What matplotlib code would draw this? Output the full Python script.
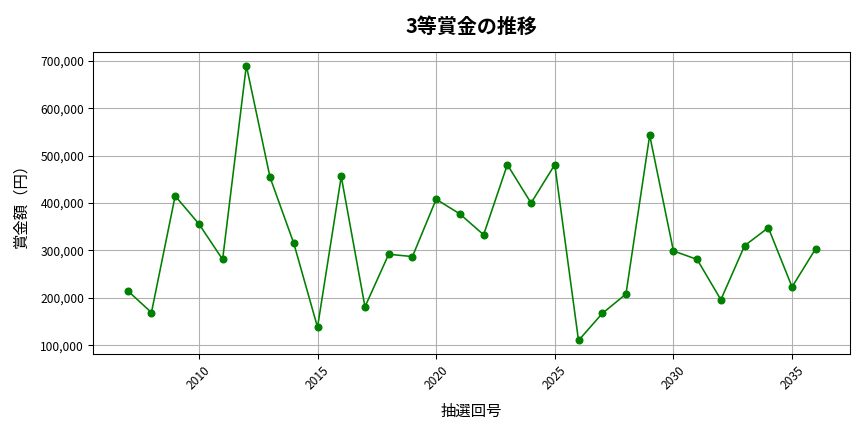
import matplotlib
matplotlib.use("Agg")
import matplotlib.pyplot as plt
from matplotlib.ticker import FuncFormatter

plt.rcParams['font.family'] = ['Noto Sans CJK JP', 'DejaVu Sans']

draws = list(range(2007, 2037))
prizes = [215000, 169000, 415000, 356000, 281000, 690000, 454000, 315000, 138000, 456000,
          181000, 292000, 287000, 408000, 377000, 333000, 481000, 400000, 481000, 110000,
          167000, 208000, 543000, 299000, 281000, 196000, 310000, 348000, 223000, 304000]

fig, ax = plt.subplots(figsize=(9, 4.5), dpi=96)
ax.plot(draws, prizes, color='green', marker='o', markersize=5, linewidth=1.2)
ax.set_title('3等賞金の推移', fontsize=15, fontweight='bold', pad=14)
ax.set_xlabel('抽選回号', fontsize=11.5, labelpad=8)
ax.set_ylabel('賞金額（円）', fontsize=11.5, labelpad=8)
ax.yaxis.set_major_formatter(FuncFormatter(lambda v, p: f'{int(v):,}'))
ax.tick_params(axis='x', rotation=45, labelsize=9)
ax.tick_params(axis='y', labelsize=9)
ax.grid(True, color='#b0b0b0', linewidth=0.8)
fig.subplots_adjust(left=0.108, right=0.984, top=0.88, bottom=0.18)
fig.savefig('out.png', dpi=96)
